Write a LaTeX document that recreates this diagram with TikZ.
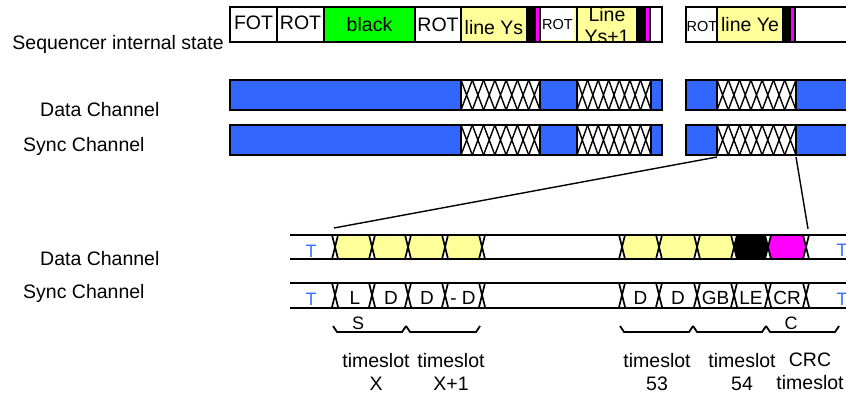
\documentclass[tikz,border=0pt]{standalone}
\usepackage{fontspec}
\setmainfont{Liberation Sans}
\usepackage{tikz}
\usetikzlibrary{positioning,calc}
\definecolor{chblue}{RGB}{51,102,255}
\definecolor{lineyellow}{RGB}{255,255,153}
\definecolor{seqgreen}{RGB}{0,255,0}
\definecolor{seqmagenta}{RGB}{255,0,255}
\definecolor{tblue}{RGB}{60,110,255}
\tikzset{
  lbl/.style={font=\fontsize{19.5}{23}\selectfont, inner sep=0pt},
  lanelbl/.style={font=\fontsize{19}{20}\selectfont, inner sep=0pt, anchor=base},
  smallrot/.style={font=\fontsize{14.5}{15}\selectfont, inner sep=0pt, anchor=base},
  tlbl/.style={font=\fontsize{18}{18}\selectfont, inner sep=0pt, anchor=base, text=tblue},
  seqbox/.style={draw=black, line width=2pt},
  chseg/.style={draw=black, line width=2pt, fill=chblue},
  hatchbox/.style={draw=black, line width=2pt, fill=white},
  xline/.style={black, line width=1.4pt},
  laneline/.style={black, line width=1.9pt},
  bracket/.style={black, line width=1.8pt},
}

\begin{document}
\begin{tikzpicture}[x=1pt, y=-1pt]
  \useasboundingbox (0,0) rectangle (846,393);

  % left labels
  \node[lbl, anchor=base east] (seqlbl) at (224,50) {Sequencer internal state};
  \node[lbl, anchor=base west] (datalbl) at (40,117) {Data Channel};
  \node[lbl, anchor=base west] (synclbl) at (23,151) {Sync Channel};
  \node[lbl, anchor=base west] (datalbl2) at (40,265) {Data Channel};
  \node[lbl, anchor=base west] (synclbl2) at (23,298) {Sync Channel};

  % sequencer state row
  \foreach \a/\b/\c in {230/277/white, 277/324/white, 324/415/seqgreen, 415/461/white,
                        461/527/lineyellow, 527/535/black, 535/540/seqmagenta, 540/577/lineyellow,
                        577/637/lineyellow, 637/645/black, 645/650/seqmagenta, 650/662/white,
                        686/717/white, 783/790/black, 790/795/seqmagenta, 795/860/white}
    \draw[seqbox, fill=\c] (\a,7) rectangle (\b,42);

  \node[lbl, anchor=base] (fot) at (253.5,30) {FOT};
  \node[lbl, anchor=base] (rot1) at (300.5,30) {ROT};
  \node[lbl, anchor=base] (blk) at (369.5,32) {black};
  \node[lbl, anchor=base] (rot2) at (438,32) {ROT};
  \node[lbl, anchor=base] (ys) at (494,35) {line Ys};
  \node[smallrot, fill=white, minimum height=32pt, inner xsep=1pt, anchor=west] (rot3) at (541,24.5) {ROT};
  \begin{scope}
    \clip (577,7) rectangle (637,42);
    \node[lbl, anchor=base] (ys1a) at (607,22) {Line};
    \node[lbl, anchor=base] (ys1b) at (607,44) {Ys+1};
  \end{scope}
  \draw[seqbox] (577,7) rectangle (637,42);

  \node[smallrot] (rot4) at (702,32) {ROT};
  \draw[seqbox, fill=lineyellow] (717,7) rectangle (783,42);
  \node[lbl, anchor=base] (ye) at (750,32) {line Ye};

  % data and sync channels
  \foreach \yy in {80,125}
  {
    \foreach \a/\b in {230/461, 540/577, 651/662, 686/717, 796/860}
      \draw[chseg] (\a,\yy) rectangle (\b,\yy+30);
    \foreach \a/\b in {461/540, 577/651, 717/796}
    {
      \draw[hatchbox] (\a,\yy) rectangle (\b,\yy+30);
      \foreach \i in {0,...,6}
      {
        \pgfmathsetmacro{\xl}{\a+\i*(\b-\a)/7}
        \pgfmathsetmacro{\xr}{\a+(\i+1)*(\b-\a)/7}
        \draw[xline] (\xl,\yy) -- (\xr,\yy+30) (\xr,\yy) -- (\xl,\yy+30);
      }
      \draw[hatchbox, fill=none] (\a,\yy) rectangle (\b,\yy+30);
    }
  }

  % zoom lines
  \coordinate (zoomL) at (717,157);
  \coordinate (zoomR) at (796,157);
  \coordinate (laneL) at (334,228);
  \coordinate (laneR) at (808,229);
  \draw[laneline, line width=1.4pt] (zoomL) -- (laneL);
  \draw[laneline, line width=1.4pt] (zoomR) -- (laneR);

  % detailed data lane fills
  \foreach \a/\b/\c in {335/372/lineyellow, 372/408/lineyellow, 408/445/lineyellow, 445/482/lineyellow,
                        622/659/lineyellow, 659/697/lineyellow, 697/734/lineyellow, 734/768/black, 768/806/seqmagenta}
    \fill[\c] (\a+3,235) -- (\b-3,235) -- (\b,247) -- (\b-3,259) -- (\a+3,259) -- (\a,247) -- cycle;

  % lane lines
  \foreach \yy in {235,259,283,308}
    \draw[laneline] (290,\yy) -- (860,\yy);

  % transitions
  \foreach \yy in {235,283}
    \foreach \t in {335,372,408,445,482,622,659,697,734,768,806}
      \draw[xline, line width=1.7pt] (\t-3,\yy) -- (\t+3,\yy+24) (\t+3,\yy) -- (\t-3,\yy+24);

  % T marks
  \node[tlbl] (tdl) at (311,257) {T};
  \node[tlbl] (tsl) at (311,305) {T};
  \node[tlbl] (tdr) at (842,256) {T};
  \node[tlbl] (tsr) at (842,305) {T};

  % sync lane labels
  \foreach \x/\s in {355/L, 391/D, 427/D, 463/- D, 640.5/D, 678/D, 715.5/GB, 751/LE, 787/CR}
    \node[lanelbl] (sl-\x) at (\x,304) {\s};

  % brackets
  \foreach \a/\b in {333/406, 406/480, 620/693, 693/766, 766/839}
    \draw[bracket] (\a,326) -- (\a+4,332) -- (\b-4,332) -- (\b,326);
  \node[lanelbl, font=\fontsize{18}{18}\selectfont] (slbl) at (358,329) {S};
  \node[lanelbl, font=\fontsize{18}{18}\selectfont] (clbl) at (791,329) {C};

  % timeslot labels
  \node[lbl, align=center, anchor=north] (tsx) at (376,353) {timeslot\\X};
  \node[lbl, align=center, anchor=north] (tsx1) at (451,353) {timeslot\\X+1};
  \node[lbl, align=center, anchor=north] (ts53) at (657,353) {timeslot\\53};
  \node[lbl, align=center, anchor=north] (ts54) at (742,353) {timeslot\\54};
  \node[lbl, align=center, anchor=north] (tscrc) at (810,353) {CRC\\timeslot};
\end{tikzpicture}
\end{document}
